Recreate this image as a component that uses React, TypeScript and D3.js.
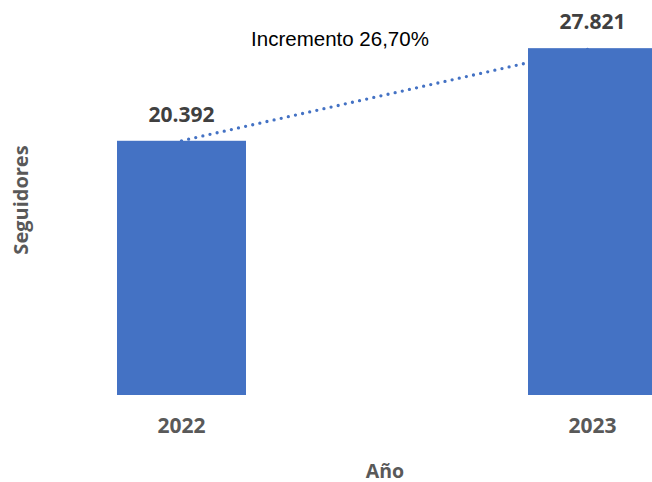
import React from "react";
import * as d3 from "d3";

const years = ["2022", "2023"];
const followers = [20392, 27821];
const valueLabels = ["20.392", "27.821"];
const trendLabel = "Incremento 26,70%";
const xTitle = "Año";
const yTitle = "Seguidores";

const W = 652;
const H = 482;

export default function App() {
  const x = d3
    .scaleBand<string>()
    .domain(years)
    .range([117, 657])
    .paddingInner(282 / 411)
    .paddingOuter(0);
  const y = d3.scaleLinear().domain([0, 30000]).range([395, 21]);
  const bw = x.bandwidth();
  const cx = (yr: string) => (x(yr) as number) + bw / 2;

  const trend = d3
    .line<number>()
    .x((_, i) => cx(years[i]))
    .y((d) => y(d));

  const boldFont = "'Open Sans', 'Noto Sans', sans-serif";

  return (
    <svg
      width={W}
      height={H}
      style={{ position: "absolute", left: 0, top: 0, background: "#fff" }}
    >
      <rect x={0} y={0} width={W} height={H} fill="#fff" />
      <path
        d={trend(followers) || ""}
        fill="none"
        stroke="#4472C4"
        strokeWidth={3.3}
        strokeLinecap="round"
        strokeDasharray="0 7.3"
      />
      {years.map((yr, i) => (
        <rect
          key={yr}
          x={x(yr)}
          y={y(followers[i])}
          width={bw}
          height={y(0) - y(followers[i])}
          fill="#4472C4"
        />
      ))}
      {years.map((yr, i) => (
        <text
          key={"v" + yr}
          x={cx(yr)}
          y={y(followers[i]) - 19}
          textAnchor="middle"
          fontFamily={boldFont}
          fontWeight="bold"
          fontSize={21}
          fill="#404040"
        >
          {valueLabels[i]}
        </text>
      ))}
      {years.map((yr) => (
        <text
          key={"t" + yr}
          x={cx(yr)}
          y={433}
          textAnchor="middle"
          fontFamily={boldFont}
          fontWeight="bold"
          fontSize={21}
          fill="#595959"
        >
          {yr}
        </text>
      ))}
      <text
        x={340}
        y={46}
        textAnchor="middle"
        fontFamily="'Liberation Sans', Arial, sans-serif"
        fontSize={20.5}
        fill="#000"
      >
        {trendLabel}
      </text>
      <text
        x={385}
        y={477.5}
        textAnchor="middle"
        fontFamily={boldFont}
        fontWeight="bold"
        fontSize={19.5}
        fill="#595959"
      >
        {xTitle}
      </text>
      <text
        transform="translate(28,200) rotate(-90)"
        textAnchor="middle"
        fontFamily={boldFont}
        fontWeight="bold"
        fontSize={20}
        fill="#595959"
      >
        {yTitle}
      </text>
    </svg>
  );
}
